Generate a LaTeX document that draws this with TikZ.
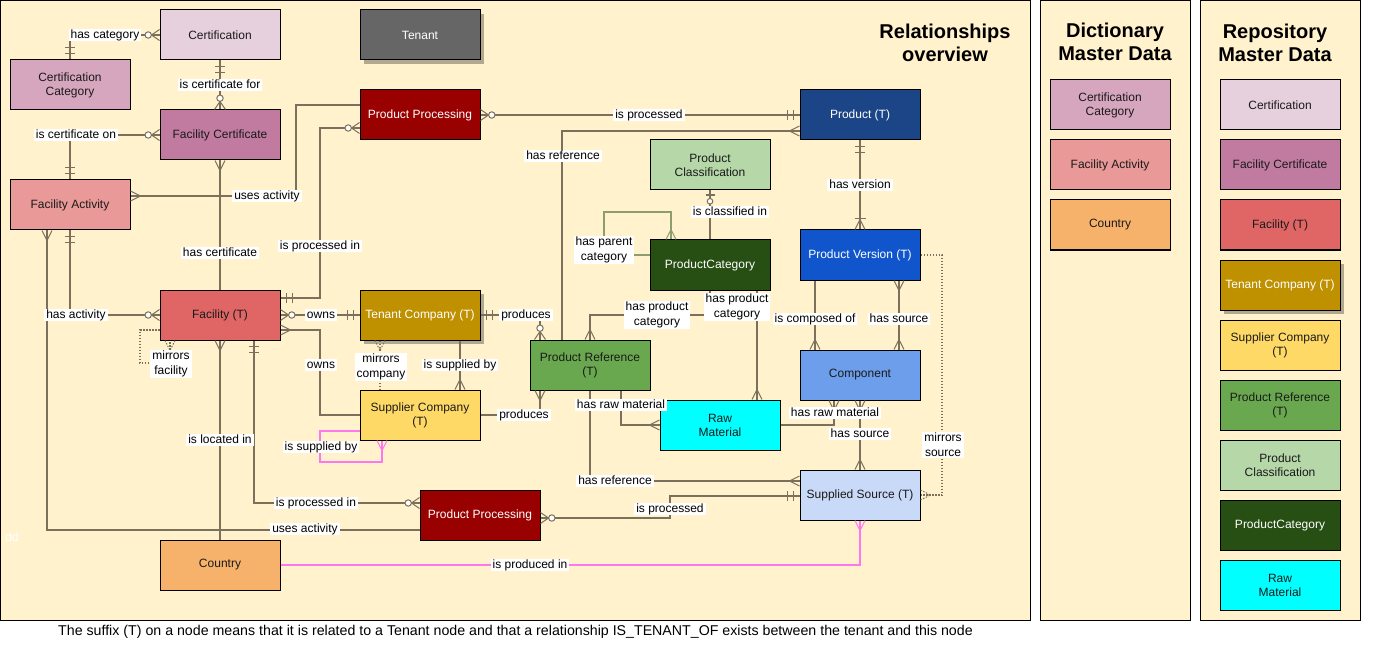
\documentclass[tikz,border=0pt]{standalone}
\usepackage{fontspec}
\setmainfont{Liberation Sans}
\usetikzlibrary{decorations.markings,shadows}
\definecolor{bgy}{HTML}{FFF2CC}
\definecolor{lnc}{HTML}{7A705B}
\definecolor{pnk}{HTML}{FF77EE}
\definecolor{grn}{HTML}{8C9E6E}
\definecolor{txd}{HTML}{1A1A1A}
\definecolor{cCert}{HTML}{E6D0DE}
\definecolor{cCat}{HTML}{D5A6BD}
\definecolor{cTen}{HTML}{666666}
\definecolor{cProc}{HTML}{990000}
\definecolor{cFCert}{HTML}{C27BA0}
\definecolor{cAct}{HTML}{EA9999}
\definecolor{cProd}{HTML}{1C4587}
\definecolor{cClass}{HTML}{B6D7A8}
\definecolor{cPCat}{HTML}{274E13}
\definecolor{cVer}{HTML}{1155CC}
\definecolor{cFac}{HTML}{E06666}
\definecolor{cTComp}{HTML}{BF9000}
\definecolor{cRef}{HTML}{6AA84F}
\definecolor{cComp}{HTML}{6D9EEB}
\definecolor{cSComp}{HTML}{FFD966}
\definecolor{cRaw}{HTML}{00FFFF}
\definecolor{cSrc}{HTML}{C9DAF8}
\definecolor{cCountry}{HTML}{F6B26B}
\newcommand\ermany{\draw[line width=1pt] (0,5)--(10,0)--(0,-5);}
\newcommand\erzeromany{\draw[line width=1pt] (0,5.5)--(8,0)--(0,-5.5); \draw[line width=1pt,fill=white] (11.3,0) circle[radius=3.2];}
\newcommand\ermandone{\draw[line width=1.3pt] (6,5)--(6,-5) (12,5)--(12,-5);}
\newcommand\eronemany{\draw[line width=1pt] (0,5)--(10,0)--(0,-5); \draw[line width=1.3pt] (11,5.5)--(11,-5.5);}
\newcommand\erzeroone{\draw[line width=1.3pt] (4.5,4.5)--(4.5,-4.5); \draw[line width=1pt,fill=white] (10.8,0) circle[radius=2.8];}
\tikzset{
 smark/.style={postaction={decorate,decoration={markings,mark=at position 0pt with {#1}}}},
 emark/.style={postaction={decorate,decoration={markings,mark=at position -0.01pt with {\begin{scope}[xscale=-1]#1\end{scope}}}}},
 sM/.style={smark=\ermany}, eM/.style={emark=\ermany},
 sZM/.style={smark=\erzeromany}, eZM/.style={emark=\erzeromany},
 sMO/.style={smark=\ermandone}, eMO/.style={emark=\ermandone},
 sOM/.style={smark=\eronemany}, eOM/.style={emark=\eronemany},
 sZO/.style={smark=\erzeroone}, eZO/.style={emark=\erzeroone},
 conn/.style={draw=lnc, line width=1.5pt},
 pinkc/.style={draw=pnk, line width=1.5pt},
 greenc/.style={draw=grn, line width=1.5pt},
 dotc/.style={draw=lnc, line width=1.5pt, dash pattern=on 1.5pt off 1.5pt},
 ent/.style={draw=black, line width=1pt, minimum width=120pt, minimum height=50pt, inner sep=1pt, text=txd, font=\fontsize{12}{14}\selectfont, align=center},
 wt/.style={text=white},
 shd/.style={drop shadow={shadow xshift=4pt, shadow yshift=-4pt, fill=black, opacity=0.3}},
 lbl/.style={fill=white, inner xsep=2pt, inner ysep=0.6pt, text height=9pt, text depth=2.6pt, text=black, font=\fontsize{12}{14.5}\selectfont, align=center},
 lbltwo/.style={fill=white, inner xsep=2pt, inner ysep=1.2pt, text=black, font=\fontsize{12}{15}\selectfont, align=center},
 panel/.style={draw=black, line width=1pt, fill=bgy, inner sep=0pt},
 ttl/.style={font=\fontsize{20}{23}\selectfont\bfseries, align=center, text=black},
}
\begin{document}
\begin{tikzpicture}[x=1pt,y=-1pt]
\useasboundingbox (0,0) rectangle (1380,660);
% panels
\node[panel, minimum width=1030pt, minimum height=619.5pt] (pmain) at (515.5,310.25) {};
\node[panel, minimum width=150pt, minimum height=619.5pt] (pdict) at (1115.5,310.25) {};
\node[panel, minimum width=160pt, minimum height=619.5pt] (prepo) at (1280.5,310.25) {};
\node[ttl] (t1) at (945,43) {Relationships\\overview};
\node[ttl] (t2) at (1115,42) {Dictionary\\Master Data};
\node[ttl] (t3) at (1275,43) {Repository\\Master Data};
\node[text=white, font=\fontsize{12}{14}\selectfont] (dd) at (12,537) {dd};
\node[anchor=west, text=black, font=\fontsize{14.2}{16}\selectfont, inner sep=0pt] (cap) at (58,632) {The suffix (T) on a node means that it is related to a Tenant node and that a relationship IS\_TENANT\_OF exists between the tenant and this node};
% entities
\node[ent, fill=cCert] (cert) at (220,35) {Certification};
\node[ent, fill=cCat] (certcat) at (70,85) {Certification\\Category};
\node[ent, fill=cTen, wt, shd] (tenant) at (420,35) {Tenant};
\node[ent, fill=cProc, wt] (ppt) at (420,115) {Product Processing};
\node[ent, fill=cFCert] (faccert) at (220,135) {Facility Certificate};
\node[ent, fill=cAct] (facact) at (70,205) {Facility Activity};
\node[ent, fill=cProd, wt] (prod) at (860,115) {Product (T)};
\node[ent, fill=cClass] (pclass) at (710,165) {Product\\Classification};
\node[ent, fill=cPCat, wt] (pcat) at (710,265) {ProductCategory};
\node[ent, fill=cVer, wt] (pver) at (860,255) {Product Version (T)};
\node[ent, fill=cFac] (fac) at (220,315) {Facility (T)};
\node[ent, fill=cTComp, wt, shd] (tcomp) at (420,315) {Tenant Company (T)};
\node[ent, fill=cRef] (pref) at (590,365) {Product Reference\\(T)};
\node[ent, fill=cComp] (comp) at (860,375) {Component};
\node[ent, fill=cSComp] (scomp) at (420,415) {Supplier Company\\(T)};
\node[ent, fill=cRaw] (raw) at (720,425) {Raw\\Material};
\node[ent, fill=cProc, wt] (ppb) at (480,515) {Product Processing};
\node[ent, fill=cSrc] (ssrc) at (860,495) {Supplied Source (T)};
\node[ent, fill=cCountry] (country) at (220,565) {Country};
% legend: dictionary
\node[ent, fill=cCat] (dcat) at (1110,105) {Certification\\Category};
\node[ent, fill=cAct] (dact) at (1110,165) {Facility Activity};
\node[ent, fill=cCountry] (dcountry) at (1110,225) {Country};
% legend: repository
\node[ent, fill=cCert] (rcert) at (1280,105) {Certification};
\node[ent, fill=cFCert] (rfcert) at (1280,165) {Facility Certificate};
\node[ent, fill=cFac] (rfac) at (1280,225) {Facility (T)};
\node[ent, fill=cTComp, wt, shd] (rtcomp) at (1280,285) {Tenant Company (T)};
\node[ent, fill=cSComp] (rscomp) at (1280,345) {Supplier Company\\(T)};
\node[ent, fill=cRef] (rref) at (1280,405) {Product Reference\\(T)};
\node[ent, fill=cClass] (rclass) at (1280,465) {Product\\Classification};
\node[ent, fill=cPCat, wt] (rpcat) at (1280,525) {ProductCategory};
\node[ent, fill=cRaw] (rraw) at (1280,585) {Raw\\Material};
% connectors
\draw[conn,sZM,eMO] (cert.west) -| (certcat.north);
\draw[conn,sMO,eZM] (cert.south) -- (faccert.north);
\draw[conn,sZM,eMO] (faccert.west) -| (facact.north);
\draw[conn,sM] (facact.east |- 0,196) -- (296,196) |- (ppt.west |- 0,105);
\draw[conn,sM] (faccert.south) -- (fac.north);
\draw[conn,sMO,eZM] (facact.south) |- (fac.west);
\draw[conn,sM] (facact.south -| 47,0) |- (ppb.west |- 0,530);
\draw[conn,sMO,eZM] (fac.east |- 0,298) -| (320,128) -- (ppt.west |- 0,128);
\draw[conn,sZM,eMO] (fac.east) -- (tcomp.west);
\draw[conn,sM] (fac.east |- 0,330) -| (320,415) -- (scomp.west);
\draw[conn,sM] (fac.south) -- (country.north);
\draw[conn,sMO,eZM] (fac.south -| 254,0) |- (ppb.west |- 0,503);
\draw[dotc,eM] (fac.west |- 0,330) -- (140,330) -- (140,363) -- (170,363) -- (fac.south -| 170,0);
\draw[dotc,sM] (tcomp.south -| 380,0) -- (scomp.north -| 380,0);
\draw[conn,eM] (tcomp.south -| 460,0) -- (scomp.north -| 460,0);
\draw[pinkc,eM] (scomp.west |- 0,431) -- (320,431) -- (320,462) -- (382,462) -- (scomp.south -| 382,0);
\draw[conn,sMO,eZM] (tcomp.east) -| (pref.north -| 540,0);
\draw[conn,eM] (scomp.east) -| (pref.south -| 540,0);
\draw[conn,sZM,eMO] (ppt.east) -- (prod.west);
\draw[conn,eM] (pref.north -| 562,0) |- (prod.west |- 0,131);
\draw[conn,sMO,eOM] (prod.south) -- (pver.north);
\draw[greenc,eM] (pcat.west |- 0,255) -- (604,255) -- (604,212) -- (671,212) -- (pcat.north -| 671,0);
\draw[conn,sZO] (pclass.south) -- (pcat.north);
\draw[conn,eM] (pcat.south) |- (590,315) -- (pref.north -| 590,0);
\draw[conn,eM] (pcat.south -| 757,0) -- (raw.north -| 757,0);
\draw[conn,eM] (pref.south -| 621,0) |- (raw.west);
\draw[conn,sM] (comp.south -| 834,0) |- (raw.east);
\draw[conn,sM,eM] (comp.south) -- (ssrc.north);
\draw[conn,eM] (pver.south -| 815,0) -- (comp.north -| 815,0);
\draw[conn,sM,eM] (pver.south -| 899,0) -- (comp.north -| 899,0);
\draw[dotc,eM] (pver.east) -- (942,255) |- (ssrc.east);
\draw[conn,eM] (pref.south -| 590,0) |- (ssrc.west |- 0,481);
\draw[conn,sZM,eMO] (ppb.east |- 0,518) -- (670,518) |- (ssrc.west |- 0,496);
\draw[pinkc,eM] (country.east) -| (ssrc.south);
% labels
\node[lbl] (l1) at (105,35) {has category};
\node[lbl] (l2) at (220,85) {is certificate for};
\node[lbl] (l3) at (76,135) {is certificate on};
\node[lbl] (l4) at (267,196) {uses activity};
\node[lbl] (l5) at (220,253) {has certificate};
\node[lbl] (l6) at (76,315) {has activity};
\node[lbl] (l7) at (305,529) {uses activity};
\node[lbl] (l8) at (320,246) {is processed in};
\node[lbl] (l9) at (321,315) {owns};
\node[lbl] (l10) at (321,365) {owns};
\node[lbl] (l11) at (220,440) {is located in};
\node[lbl] (l12) at (316,503) {is processed in};
\node[lbltwo] (l13) at (171,364) {mirrors\\facility};
\node[lbltwo] (l14) at (381,367) {mirrors\\company};
\node[lbl] (l15) at (460,365) {is supplied by};
\node[lbl] (l16) at (321,447) {is supplied by};
\node[lbl] (l17) at (526,315) {produces};
\node[lbl] (l18) at (524,415) {produces};
\node[lbl] (l19) at (649,115) {is processed};
\node[lbl] (l20) at (563,156) {has reference};
\node[lbl] (l21) at (860,185) {has version};
\node[lbltwo] (l22) at (604,250) {has parent\\category};
\node[lbl] (l23) at (730,212) {is classified in};
\node[lbltwo] (l24) at (657,315) {has product\\category};
\node[lbltwo] (l25) at (737,307) {has product\\category};
\node[lbl] (l26) at (621,405) {has raw material};
\node[lbl] (l27) at (835,413) {has raw material};
\node[lbl] (l28) at (860,434) {has source};
\node[lbl] (l29) at (815,319) {is composed of};
\node[lbl] (l30) at (899,319) {has source};
\node[lbltwo] (l31) at (943,445) {mirrors\\source};
\node[lbl] (l32) at (615,481) {has reference};
\node[lbl] (l33) at (670,509) {is processed};
\node[lbl] (l34) at (530,565) {is produced in};
\end{tikzpicture}
\end{document}
